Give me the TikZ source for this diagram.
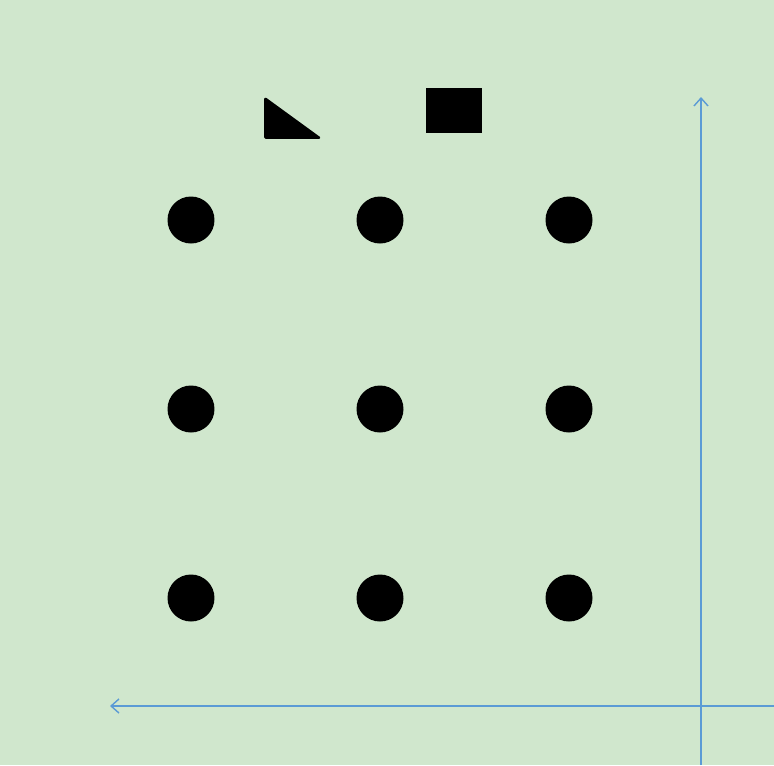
\documentclass[tikz,border=0pt]{standalone}
\usepackage{xcolor}
\usepackage{tikz}
\usetikzlibrary{positioning, calc, arrows.meta}

\definecolor{bggreen}{RGB}{208,231,205}
\definecolor{axisblue}{RGB}{91,155,213}

\begin{document}
\begin{tikzpicture}[
    x=0.02cm, y=-0.02cm,
    dot/.style={circle, fill=black, minimum size=0.94cm, inner sep=0pt},
    axisline/.style={draw=axisblue, line width=0.8pt,
                     -{Straight Barb[length=4.5pt, width=8pt]}},
]
% --- Background ---
\fill[bggreen] (0, 0) rectangle (774, 765);
\useasboundingbox (0, 0) rectangle (774, 765);

% --- Shapes ---
\filldraw[line width=1pt, line join=round, rounded corners=0.5pt]
    (265, 98) -- (265, 138) -- (320, 138) -- cycle;
\fill (426, 88) rectangle (482, 133);

% --- Dots ---
\node[dot] (d11) at (191, 220) {};
\node[dot] (d12) at (380, 220) {};
\node[dot] (d13) at (569, 220) {};
\node[dot] (d21) at (191, 409) {};
\node[dot] (d22) at (380, 409) {};
\node[dot] (d23) at (569, 409) {};
\node[dot] (d31) at (191, 598) {};
\node[dot] (d32) at (380, 598) {};
\node[dot] (d33) at (569, 598) {};

% --- Axes ---
\coordinate (ybot) at (701, 765);
\coordinate (ytop) at (701, 97);
\coordinate (xright) at (774, 706);
\coordinate (xleft) at (110, 706);
\draw[axisline] (ybot) -- (ytop);
\draw[axisline] (xright) -- (xleft);
\end{tikzpicture}
\end{document}
